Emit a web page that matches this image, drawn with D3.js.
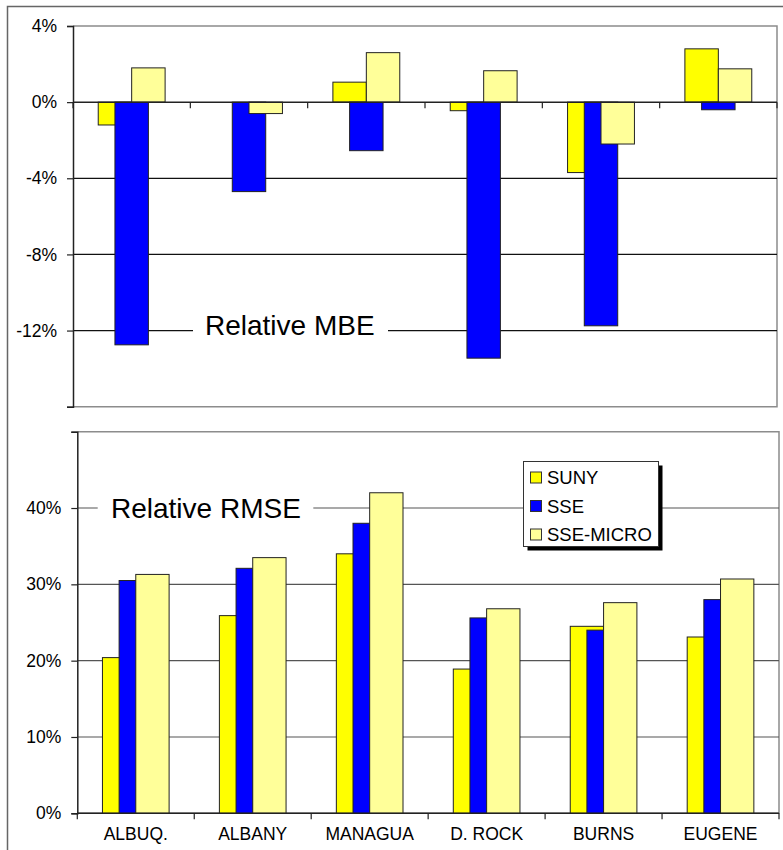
<!DOCTYPE html>
<html>
<head>
<meta charset="utf-8">
<script src="https://cdn.jsdelivr.net/npm/d3@7"></script>
<style>
  html, body { margin: 0; padding: 0; background: #fff; }
  svg { display: block; font-family: "Liberation Sans", Arial, sans-serif; }
</style>
</head>
<body>
<svg id="chart" width="783" height="850"></svg>
<script>
// Stations (shared by both panels)
const stations = ["ALBUQ.", "ALBANY", "MANAGUA", "D. ROCK", "BURNS", "EUGENE"];
const seriesNames = ["SUNY", "SSE", "SSE-MICRO"];
const seriesColors = ["#ffff00", "#0000ff", "#ffff99"];

// Relative MBE (%)
const mbeSuny  = [-1.2, 0.0, 1.05, -0.45, -3.7, 2.8];
const mbeSse   = [-12.75, -4.7, -2.55, -13.45, -11.75, -0.4];
const mbeMicro = [1.8, -0.6, 2.6, 1.65, -2.2, 1.75];

// Relative RMSE (%)
const rmseSuny  = [20.4, 25.9, 34.0, 18.9, 24.5, 23.1];
const rmseSse   = [30.5, 32.1, 38.0, 25.6, 24.0, 28.0];
const rmseMicro = [31.3, 33.5, 42.0, 26.8, 27.6, 30.7];

const mbeTicks = [4, 0, -4, -8, -12, -16];
const mbeTickLabels = ["4%", "0%", "-4%", "-8%", "-12%", ""];
const rmseTicks = [0, 10, 20, 30, 40, 50];
const rmseTickLabels = ["0%", "10%", "20%", "30%", "40%", ""];

const svg = d3.select("#chart");
const FONT = 17.5;

// outer frame
svg.append("path").attr("d", "M7.5,850 V6.5 H783")
  .attr("fill", "none").attr("stroke", "#666").attr("stroke-width", 1.5);

function panel(opts) {
  const g = svg.append("g");
  const x = d3.scaleBand().domain(stations).range([opts.left, opts.right]);
  const y = d3.scaleLinear().domain(opts.domain).range([opts.bottom, opts.top]);
  const bw = x.bandwidth() * 0.285;

  // plot border (top/right/bottom in grey)
  g.append("path")
    .attr("d", `M${opts.left},${opts.top} H${opts.right} V${opts.bottom} H${opts.left}`)
    .attr("fill", "none").attr("stroke", "#8c8c8c").attr("stroke-width", 1.5);

  // gridlines
  g.append("g").selectAll("line").data(opts.grid).join("line")
    .attr("x1", opts.left).attr("x2", opts.right)
    .attr("y1", d => y(d)).attr("y2", d => y(d))
    .attr("stroke", opts.gridColor).attr("stroke-width", 1.2);

  // bars, series drawn in order so later series overlap earlier ones
  opts.series.forEach((vals, i) => {
    g.append("g").selectAll("rect").data(vals).join("rect")
      .attr("x", (d, j) => x(stations[j]) + x.bandwidth() / 2 - bw + i * bw / 2)
      .attr("width", bw)
      .attr("y", d => Math.min(y(d), y(0)))
      .attr("height", d => Math.abs(y(d) - y(0)))
      .attr("fill", seriesColors[i])
      .attr("stroke", "#222").attr("stroke-width", 1);
  });

  // y axis
  const ya = g.append("g").attr("transform", `translate(${opts.left},0)`)
    .call(d3.axisLeft(y).tickValues(opts.ticks).tickSize(6).tickPadding(10)
      .tickFormat((d, i) => opts.tickLabels[i]));
  ya.select(".domain").attr("stroke", "#222").attr("stroke-width", 1.5);
  ya.selectAll(".tick line").attr("stroke", "#222").attr("stroke-width", 1.2);
  ya.selectAll(".tick text").attr("font-size", FONT).attr("fill", "#000")
    .attr("font-family", "Liberation Sans, Arial, sans-serif");

  // category axis along the zero line with ticks at band boundaries
  const y0 = y(0);
  g.append("line").attr("x1", opts.left).attr("x2", opts.right)
    .attr("y1", y0).attr("y2", y0).attr("stroke", "#222").attr("stroke-width", 1.5);
  const bounds = stations.map(s => x(s)).concat([x(stations[stations.length - 1]) + x.bandwidth()]);
  g.append("g").selectAll("line").data(bounds).join("line")
    .attr("x1", d => d).attr("x2", d => d)
    .attr("y1", y0).attr("y2", y0 + 6)
    .attr("stroke", "#222").attr("stroke-width", 1.2);

  if (opts.showLabels) {
    g.append("g").selectAll("text").data(stations).join("text")
      .attr("x", d => x(d) + x.bandwidth() / 2)
      .attr("y", y0 + 27)
      .attr("text-anchor", "middle")
      .attr("font-size", FONT)
      .text(d => d);
  }

  // panel title sitting on a gridline
  const t = g.append("g");
  t.append("rect").attr("x", opts.titleGap[0]).attr("width", opts.titleGap[1] - opts.titleGap[0])
    .attr("y", y(opts.titleAt) - 18).attr("height", 34).attr("fill", "#fff");
  t.append("text").attr("x", opts.titleX).attr("y", y(opts.titleAt) + opts.titleDy)
    .attr("font-size", 28).attr("fill", "#000").text(opts.title);

  return { g, x, y };
}

panel({
  left: 73, right: 777, top: 26, bottom: 406.7,
  domain: [-16, 4], ticks: mbeTicks, tickLabels: mbeTickLabels,
  grid: [-4, -8, -12], gridColor: "#111",
  series: [mbeSuny, mbeSse, mbeMicro],
  showLabels: false,
  title: "Relative MBE", titleAt: -12, titleX: 205, titleDy: 4.5, titleGap: [193, 388]
});

panel({
  left: 77.3, right: 779, top: 431.7, bottom: 813.3,
  domain: [0, 50], ticks: rmseTicks, tickLabels: rmseTickLabels,
  grid: [10, 20, 30, 40], gridColor: "#555",
  series: [rmseSuny, rmseSse, rmseMicro],
  showLabels: true,
  title: "Relative RMSE", titleAt: 40, titleX: 111, titleDy: 9.5, titleGap: [97.7, 313.3]
});

// legend
const lg = svg.append("g").attr("transform", "translate(523.5,461.5)");
lg.append("rect").attr("x", 4).attr("y", 4).attr("width", 135).attr("height", 85).attr("fill", "#000");
lg.append("rect").attr("width", 135).attr("height", 85)
  .attr("fill", "#fff").attr("stroke", "#333").attr("stroke-width", 1);
seriesNames.forEach((name, i) => {
  const cy = 16 + i * 28.5;
  lg.append("rect").attr("x", 7).attr("y", cy - 5.5).attr("width", 11).attr("height", 11)
    .attr("fill", seriesColors[i]).attr("stroke", "#333").attr("stroke-width", 1);
  lg.append("text").attr("x", 23.5).attr("y", cy + 6.5)
    .attr("font-size", 18.5).text(name);
});
</script>
</body>
</html>
